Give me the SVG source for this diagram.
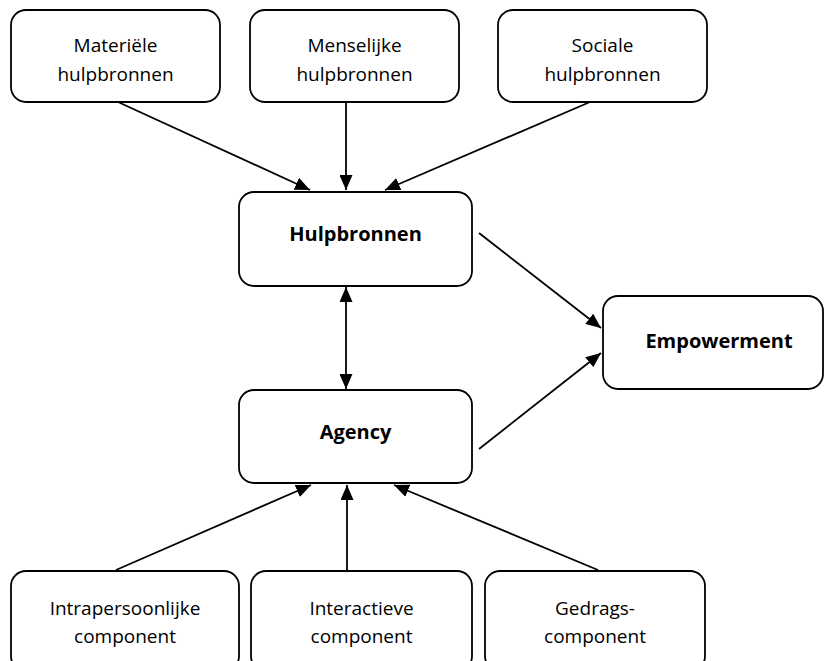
<svg xmlns="http://www.w3.org/2000/svg" width="826" height="661" viewBox="0 0 826 661">
<defs>
<style>
.box{fill:#fff;stroke:#000;stroke-width:1.8}
.t{font-family:"Open Sans","Liberation Sans",sans-serif;font-size:19px;text-anchor:middle;fill:#000}
.b{font-family:"Open Sans","Liberation Sans",sans-serif;font-size:20px;font-weight:bold;text-anchor:middle;fill:#000}
.c{stroke:#000;stroke-width:1.8;fill:none}
</style>
<marker id="ah" viewBox="0 0 15 13" refX="15" refY="6.5" markerWidth="15" markerHeight="13" markerUnits="userSpaceOnUse" orient="auto-start-reverse">
<path d="M0,0 L15,6.5 L0,13 Z" fill="#000"/>
</marker>
</defs>
<rect width="826" height="661" fill="#fff"/>
<g id="connectors">
<line class="c" x1="118" y1="102" x2="310" y2="190" marker-end="url(#ah)"/>
<line class="c" x1="346" y1="102" x2="346" y2="190" marker-end="url(#ah)"/>
<line class="c" x1="590" y1="102" x2="385" y2="190" marker-end="url(#ah)"/>
<line class="c" x1="346" y1="287" x2="346" y2="389" marker-start="url(#ah)" marker-end="url(#ah)"/>
<line class="c" x1="479" y1="233" x2="601" y2="328" marker-end="url(#ah)"/>
<line class="c" x1="479" y1="449" x2="601" y2="353" marker-end="url(#ah)"/>
<line class="c" x1="116" y1="570" x2="311" y2="485" marker-end="url(#ah)"/>
<line class="c" x1="347" y1="570" x2="347" y2="485" marker-end="url(#ah)"/>
<line class="c" x1="598" y1="570" x2="394" y2="485" marker-end="url(#ah)"/>
</g>
<g id="materiele">
<rect class="box" x="11" y="10" width="209" height="92" rx="15"/>
<text class="t" x="115.5" y="52">Materiële</text>
<text class="t" x="115.5" y="81">hulpbronnen</text>
</g>
<g id="menselijke">
<rect class="box" x="250" y="10" width="209" height="92" rx="15"/>
<text class="t" x="354.5" y="52">Menselijke</text>
<text class="t" x="354.5" y="81">hulpbronnen</text>
</g>
<g id="sociale">
<rect class="box" x="498" y="10" width="209" height="92" rx="15"/>
<text class="t" x="602.5" y="52">Sociale</text>
<text class="t" x="602.5" y="81">hulpbronnen</text>
</g>
<g id="hulpbronnen">
<rect class="box" x="239" y="192" width="233" height="94" rx="15"/>
<text class="b" x="355.5" y="241">Hulpbronnen</text>
</g>
<g id="empowerment">
<rect class="box" x="603" y="296" width="220" height="93" rx="15"/>
<text class="b" x="719" y="348">Empowerment</text>
</g>
<g id="agency">
<rect class="box" x="239" y="390" width="233" height="93" rx="15"/>
<text class="b" x="355.5" y="439">Agency</text>
</g>
<g id="intrapersoonlijke">
<rect class="box" x="11" y="571" width="228" height="100" rx="15"/>
<text class="t" x="125" y="615">Intrapersoonlijke</text>
<text class="t" x="125" y="643">component</text>
</g>
<g id="interactieve">
<rect class="box" x="251" y="571" width="221" height="100" rx="15"/>
<text class="t" x="361.5" y="615">Interactieve</text>
<text class="t" x="361.5" y="643">component</text>
</g>
<g id="gedrags">
<rect class="box" x="485" y="571" width="220" height="100" rx="15"/>
<text class="t" x="595" y="615">Gedrags-</text>
<text class="t" x="595" y="643">component</text>
</g>
</svg>
